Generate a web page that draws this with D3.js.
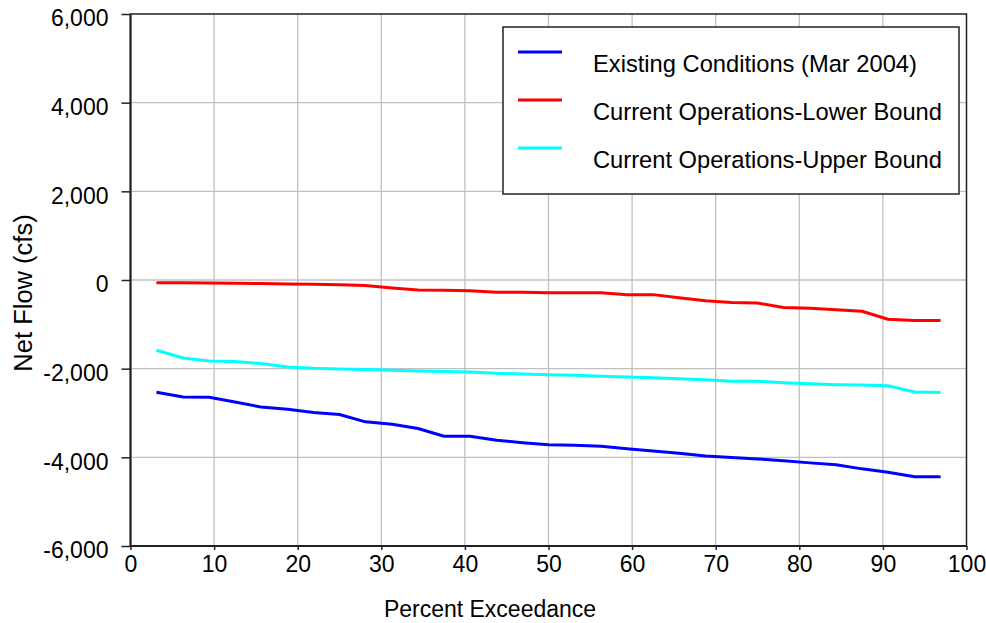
<!DOCTYPE html>
<html>
<head>
<meta charset="utf-8">
<script src="https://cdn.jsdelivr.net/npm/d3@7"></script>
<style>
  body { margin: 0; background: #fff; }
  svg { display: block; font-family: "Liberation Sans", Arial, sans-serif; }
</style>
</head>
<body>
<div id="chart"></div>
<script>
// percent exceedance of each ranked value
const pct = [3.1, 6.3, 9.4, 12.5, 15.6, 18.8, 21.9, 25.0, 28.1, 31.3, 34.4, 37.5, 40.6, 43.8, 46.9,
  50.0, 53.1, 56.3, 59.4, 62.5, 65.6, 68.8, 71.9, 75.0, 78.1, 81.3, 84.4, 87.5, 90.6, 93.8, 96.9];

const existing = [-2530, -2640, -2645, -2750, -2865, -2915, -2990, -3035, -3200, -3255, -3350, -3525, -3525,
  -3615, -3670, -3715, -3730, -3750, -3805, -3855, -3910, -3970, -4005, -4035, -4075, -4125, -4165, -4260,
  -4335, -4440, -4440];
const lowerBound = [-60, -60, -65, -75, -80, -90, -95, -105, -125, -180, -225, -230, -245, -275, -275, -285,
  -290, -290, -330, -330, -400, -470, -510, -520, -620, -640, -670, -705, -885, -915, -915];
const upperBound = [-1585, -1760, -1825, -1840, -1885, -1960, -1990, -2005, -2020, -2035, -2055, -2065, -2075,
  -2105, -2120, -2135, -2150, -2170, -2190, -2205, -2225, -2250, -2285, -2285, -2315, -2340, -2360, -2370,
  -2385, -2525, -2540];

const seriesNames = ["Existing Conditions (Mar 2004)", "Current Operations-Lower Bound", "Current Operations-Upper Bound"];
const seriesColors = ["#0000ff", "#ff0000", "#00ffff"];
const seriesValues = [existing, lowerBound, upperBound];

const xTicks = [0, 10, 20, 30, 40, 50, 60, 70, 80, 90, 100];
const yTicks = [-6000, -4000, -2000, 0, 2000, 4000, 6000];

const W = 986, H = 623;
const plot = { left: 130.5, right: 966.5, top: 14, bottom: 546 };

const svg = d3.select("#chart").append("svg").attr("width", W).attr("height", H);

const x = d3.scaleLinear().domain([0, 100]).range([plot.left, plot.right]);
const y = d3.scaleLinear().domain([-6000, 6000]).range([plot.bottom, plot.top]);

// grid
svg.append("g").selectAll("line.vg").data(xTicks.slice(1, -1)).join("line")
  .attr("x1", d => x(d)).attr("x2", d => x(d))
  .attr("y1", plot.top).attr("y2", plot.bottom)
  .attr("stroke", "#c0c0c0").attr("stroke-width", 1.3);
svg.append("g").selectAll("line.hg").data(yTicks.slice(1, -1)).join("line")
  .attr("x1", plot.left).attr("x2", plot.right)
  .attr("y1", d => y(d)).attr("y2", d => y(d))
  .attr("stroke", "#c0c0c0").attr("stroke-width", 1.3);

// series
const line = d3.line().x((d, i) => x(pct[i])).y(d => y(d));
svg.append("g").selectAll("path").data(seriesValues).join("path")
  .attr("d", d => line(d))
  .attr("fill", "none")
  .attr("stroke", (d, i) => seriesColors[i])
  .attr("stroke-width", 3)
  .attr("stroke-linejoin", "round");

// frame
svg.append("rect")
  .attr("x", plot.left).attr("y", plot.top)
  .attr("width", plot.right - plot.left).attr("height", plot.bottom - plot.top)
  .attr("fill", "none").attr("stroke", "#222").attr("stroke-width", 1.5);
svg.append("line")
  .attr("x1", plot.left).attr("x2", plot.left).attr("y1", plot.top).attr("y2", plot.bottom)
  .attr("stroke", "#222").attr("stroke-width", 2);
svg.append("line")
  .attr("x1", plot.left).attr("x2", plot.right).attr("y1", plot.bottom).attr("y2", plot.bottom)
  .attr("stroke", "#222").attr("stroke-width", 2);

// axes
const fmt = d3.format(",d");
const yAxis = d3.axisLeft(y).tickValues(yTicks).tickSize(9).tickPadding(13)
  .tickFormat(d => fmt(d).replace("\u2212", "-"));
const gy = svg.append("g").attr("transform", `translate(${plot.left},0)`).call(yAxis);
gy.select(".domain").remove();
gy.selectAll(".tick line").attr("stroke", "#222").attr("stroke-width", 1.5);
gy.selectAll(".tick text").attr("font-size", 23).attr("fill", "#000")
  .attr("font-family", "Liberation Sans, Arial, sans-serif").attr("dy", "0.52em");

const xAxis = d3.axisBottom(x).tickValues(xTicks).tickSize(4).tickPadding(6);
const gx = svg.append("g").attr("transform", `translate(0,${plot.bottom})`).call(xAxis);
gx.select(".domain").remove();
gx.selectAll(".tick line").attr("stroke", "#222").attr("stroke-width", 1.5);
gx.selectAll(".tick text").attr("font-size", 23).attr("fill", "#000")
  .attr("font-family", "Liberation Sans, Arial, sans-serif");

// titles
svg.append("text").attr("x", 490).attr("y", 617).attr("text-anchor", "middle")
  .attr("font-size", 23).attr("fill", "#000").text("Percent Exceedance");
svg.append("text").attr("transform", "translate(32,293) rotate(-90)").attr("text-anchor", "middle")
  .attr("font-size", 25.5).attr("fill", "#000").text("Net Flow (cfs)");

// legend
const lg = svg.append("g");
lg.append("rect").attr("x", 503).attr("y", 27).attr("width", 456).attr("height", 167)
  .attr("fill", "#fff").attr("stroke", "#222").attr("stroke-width", 1.5);
const items = lg.selectAll("g.item").data(seriesNames).join("g")
  .attr("transform", (d, i) => `translate(0,${52 + i * 48})`);
items.append("line").attr("x1", 518).attr("x2", 562).attr("y1", 0).attr("y2", 0)
  .attr("stroke", (d, i) => seriesColors[i]).attr("stroke-width", 3);
items.append("text").attr("x", 593).attr("y", 20).attr("font-size", 23.7).attr("fill", "#000")
  .text(d => d);
</script>
</body>
</html>
